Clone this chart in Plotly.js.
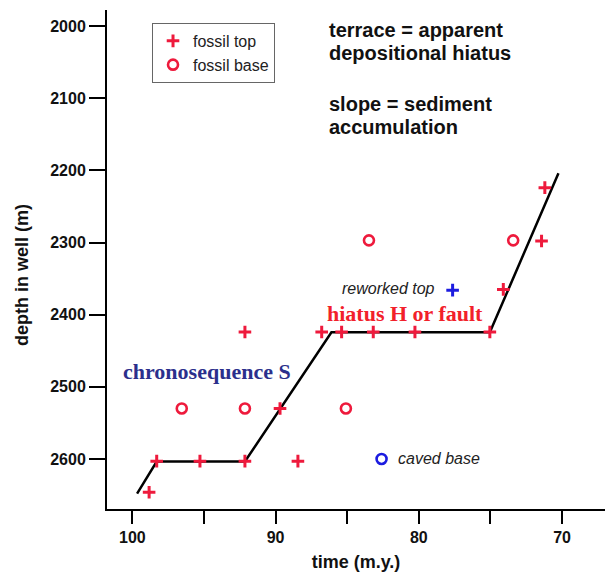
<!DOCTYPE html>
<html>
<head>
<meta charset="utf-8">
<script src="https://cdn.plot.ly/plotly-3.0.1.min.js"></script>
<style>html,body{margin:0;padding:0;background:#fff;}#chart{width:605px;height:574px;}</style>
</head>
<body>
<div id="chart"></div>
<script>
// fossil tops (red +)
const topTime  = [98.83, 98.30, 95.28, 92.14, 88.44, 92.14, 89.69, 86.78, 85.39, 83.18, 80.27, 75.04, 74.10, 71.43, 71.20];
const topDepth = [2646, 2603, 2603, 2603, 2603, 2424, 2530, 2424, 2424, 2424, 2424, 2424, 2365, 2298, 2224];
// fossil bases (red o)
const baseTime  = [96.55, 92.14, 85.09, 83.48, 73.41];
const baseDepth = [2530, 2530, 2530, 2297, 2297];
// reworked top (blue +) and caved base (blue o)
const reworkedTime = [77.64];
const reworkedDepth = [2366];
const cavedTime = [82.6];
const cavedDepth = [2600];
// interpreted chronostratigraphic line
const lineTime  = [99.67, 98.30, 92.14, 86.10, 75.04, 70.25];
const lineDepth = [2648, 2603.5, 2603.5, 2424.5, 2424.5, 2204];
// axis ticks
const xTickVals = [100, 95, 90, 85, 80, 75, 70];
const xTickText = ['100', '', '90', '', '80', '', '70'];
const yTickVals = [2000, 2100, 2200, 2300, 2400, 2500, 2600];

const RED = '#ee1a3c';
const BLUE = '#1c1ce0';

const traces = [
  {x: lineTime, y: lineDepth, mode: 'lines', line: {color: '#000', width: 2.5}, showlegend: false, hoverinfo: 'skip'},
  {x: topTime, y: topDepth, mode: 'markers', name: 'fossil top',
   marker: {symbol: 'cross-thin-open', size: 9, line: {color: RED, width: 3}, color: RED}},
  {x: baseTime, y: baseDepth, mode: 'markers', name: 'fossil base',
   marker: {symbol: 'circle-open', size: 10, line: {color: RED, width: 2.6}, color: RED}},
  {x: reworkedTime, y: reworkedDepth, mode: 'markers', showlegend: false,
   marker: {symbol: 'cross-thin-open', size: 9, line: {color: BLUE, width: 3}, color: BLUE}},
  {x: cavedTime, y: cavedDepth, mode: 'markers', showlegend: false,
   marker: {symbol: 'circle-open', size: 10, line: {color: BLUE, width: 2.6}, color: BLUE}}
];

const sansB = {family: 'Liberation Sans, Arial, sans-serif', size: 20, color: '#111'};
const layout = {
  width: 605, height: 574,
  margin: {l: 107, r: 0, t: 10, b: 65},
  paper_bgcolor: '#fff', plot_bgcolor: '#fff',
  font: {family: 'Liberation Sans, Arial, sans-serif', color: '#111'},
  xaxis: {
    range: [101.77, 67.0], showgrid: false, zeroline: false,
    showline: true, linecolor: '#000', linewidth: 2,
    ticks: 'outside', ticklen: 13, tickwidth: 2, tickcolor: '#000',
    tickvals: xTickVals, ticktext: xTickText,
    tickfont: {family: 'Liberation Sans, Arial, sans-serif', size: 16, color: '#111', weight: 'bold'},
    title: {text: '<b>time (m.y.)</b>', font: {size: 18, color: '#111'}, standoff: 10}
  },
  yaxis: {
    range: [2669.3, 1977.8], showgrid: false, zeroline: false,
    showline: true, linecolor: '#000', linewidth: 2,
    ticks: 'outside', ticklen: 16, tickwidth: 2, tickcolor: '#000',
    tickvals: yTickVals,
    tickfont: {family: 'Liberation Sans, Arial, sans-serif', size: 16, color: '#111', weight: 'bold'}
  },
  legend: {
    x: 0.0904, y: 0.974, xanchor: 'left', yanchor: 'top',
    bgcolor: '#fff', bordercolor: '#666', borderwidth: 1,
    font: {family: 'Liberation Sans, Arial, sans-serif', size: 16, color: '#222'},
    tracegroupgap: 0
  },
  annotations: [
    {xref: 'paper', yref: 'paper', x: -0.1707, y: 0.469, xanchor: 'center', yanchor: 'middle',
     text: '<b>depth in well (m)</b>', textangle: -90,
     showarrow: false, font: {size: 18, color: '#111'}},
    {x: 86.41, y: 2005.5, xanchor: 'left', yanchor: 'middle', showarrow: false, text: '<b>terrace = apparent</b>', font: sansB},
    {x: 86.41, y: 2037.5, xanchor: 'left', yanchor: 'middle', showarrow: false, text: '<b>depositional hiatus</b>', font: sansB},
    {x: 86.41, y: 2108, xanchor: 'left', yanchor: 'middle', showarrow: false, text: '<b>slope = sediment</b>', font: sansB},
    {x: 86.41, y: 2140, xanchor: 'left', yanchor: 'middle', showarrow: false, text: '<b>accumulation</b>', font: sansB},
    {x: 94.77, y: 2479, showarrow: false, text: '<b>chronosequence S</b>',
     font: {family: 'Liberation Serif, Times New Roman, serif', size: 22, color: '#2b2f8c'}},
    {x: 80.97, y: 2397.7, showarrow: false, text: '<b>hiatus H or fault</b>',
     font: {family: 'Liberation Serif, Times New Roman, serif', size: 22, color: '#f2202a'}},
    {x: 78.76, y: 2364.4, xanchor: 'right', showarrow: false, text: '<i>reworked top</i>',
     font: {size: 16, color: '#222'}},
    {x: 81.6, y: 2600, xanchor: 'left', showarrow: false, text: '<i>caved base</i>',
     font: {size: 16, color: '#222'}}
  ]
};

Plotly.newPlot('chart', traces, layout, {displayModeBar: false, staticPlot: true});
</script>
</body>
</html>
